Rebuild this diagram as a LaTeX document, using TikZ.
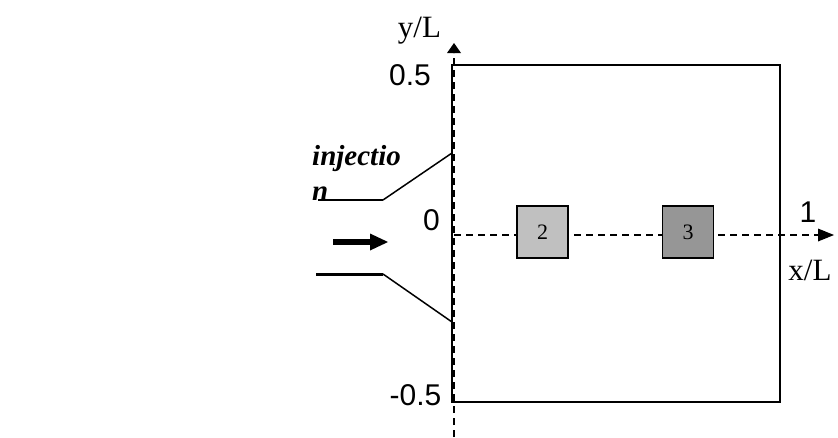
\documentclass[tikz,border=0pt]{standalone}
\usepackage{fontspec}
\setmainfont{Liberation Serif}
\newfontfamily\arialf{Liberation Sans}
\usetikzlibrary{arrows.meta}
\begin{document}
\begin{tikzpicture}[x=1pt,y=-1pt,
  axisline/.style={line width=1.8pt, dash pattern=on 7pt off 5pt},
  wall/.style={line width=1.8pt},
  probe/.style={draw, line width=1.9pt, minimum width=51pt, minimum height=52pt, inner sep=0pt, font=\fontsize{22}{24}\selectfont},
  numlab/.style={font=\arialf\fontsize{30}{32}\selectfont, anchor=base, inner sep=0pt},
  serlab/.style={font=\fontsize{31}{33}\selectfont, anchor=base, inner sep=0pt},
  injlab/.style={font=\bfseries\itshape\fontsize{29}{31}\selectfont, anchor=base west, inner sep=0pt}
]
\useasboundingbox (0,0) rectangle (838,437);
% domain
\draw[wall] (452,65) rectangle (780,402);
% axes
\coordinate (yb) at (454,437);
\coordinate (yt) at (454,43);
\coordinate (xl) at (454,235);
\coordinate (xr) at (834,235);
\draw[axisline, -{Triangle[length=10pt,width=14pt,line width=0pt]}] (yb) -- (yt);
\draw[axisline, -{Triangle[length=16pt,width=13pt,line width=0pt]}] (xl) -- (xr);
% probes
\node[probe, fill={rgb,255:red,192;green,192;blue,192}] (p2) at (542.5,232) {2};
\node[probe, fill={rgb,255:red,150;green,150;blue,150}] (p3) at (688,232) {3};
% labels
\node[serlab] (ylab) at (419.5,37) {y/L};
\node[numlab] (lhalf) at (410,85) {0.5};
\node[numlab] (lzero) at (431.5,230) {0};
\node[numlab] (lmhalf) at (415.5,405) {-0.5};
\node[numlab] (lone) at (808,222) {1};
\node[serlab] (xlab) at (810,280) {x/L};
% injection
\coordinate (u0) at (318,200);
\coordinate (u1) at (383,200);
\coordinate (u2) at (452,153);
\coordinate (l0) at (316,274);
\coordinate (l1) at (383,274);
\coordinate (l2) at (452,322);
\draw[line width=2.2pt] (u0) -- (u1);
\draw[line width=1.5pt] (u1) -- (u2);
\draw[line width=3pt] (l0) -- (l1);
\draw[line width=1.5pt] (l1) -- (l2);
\coordinate (a0) at (333,242);
\coordinate (a1) at (388,242);
\draw[line width=5.5pt, -{Triangle[length=18pt,width=17pt,line width=0pt]}] (a0) -- (a1);
\node[injlab] (inj1) at (312,165) {injectio};
\node[injlab] (inj2) at (312,200) {n};
\end{tikzpicture}
\end{document}
